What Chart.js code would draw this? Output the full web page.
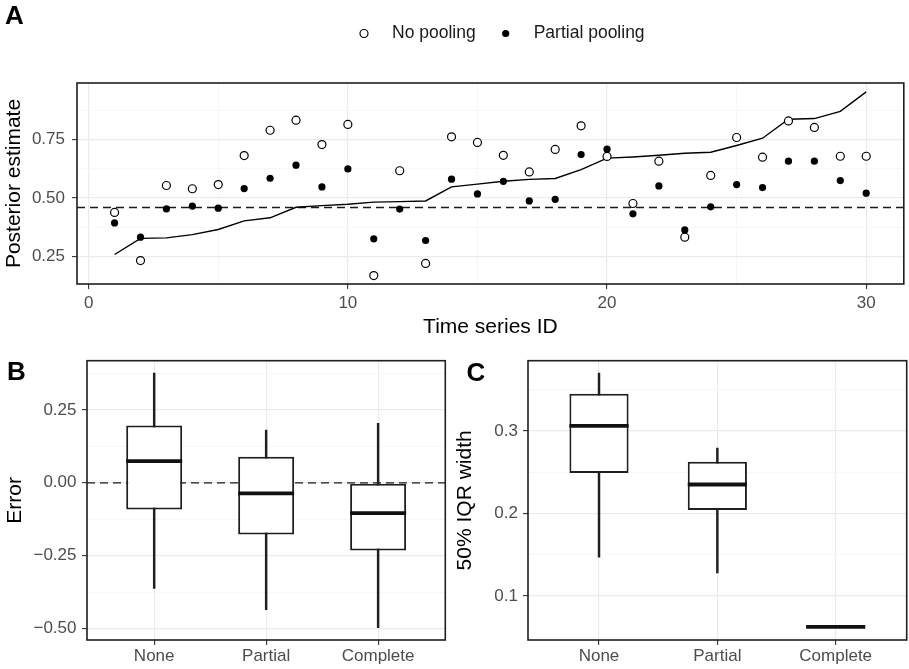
<!DOCTYPE html>
<html>
<head>
<meta charset="utf-8">
<title>Pooling comparison</title>
<script src="https://cdn.jsdelivr.net/npm/chart.js@4.4.1/dist/chart.umd.min.js"></script>
<style>
  html, body { margin: 0; padding: 0; background: #fff; }
  #wrap { position: relative; width: 909px; height: 669px; overflow: hidden; }
  canvas { position: absolute; }
</style>
</head>
<body>
<div id="wrap">
  <canvas id="chartA" width="909" height="340" style="left:0;top:0"></canvas>
  <canvas id="chartB" width="450" height="329" style="left:0;top:340px"></canvas>
  <canvas id="chartC" width="459" height="329" style="left:450px;top:340px"></canvas>
</div>
<script>
// ---- panel A: estimate per time series ----
var seriesIds = [1, 2, 3, 4, 5, 6, 7, 8, 9, 10, 11, 12, 13, 14, 15,
                 16, 17, 18, 19, 20, 21, 22, 23, 24, 25, 26, 27, 28, 29, 30];
var noPooling = [0.438, 0.232, 0.553, 0.539, 0.557, 0.681, 0.789, 0.832, 0.728, 0.814,
                 0.168, 0.616, 0.220, 0.761, 0.737, 0.682, 0.611, 0.707, 0.808, 0.677,
                 0.476, 0.657, 0.332, 0.596, 0.758, 0.674, 0.829, 0.801, 0.678, 0.678];
var partialPooling = [0.393, 0.332, 0.453, 0.465, 0.456, 0.540, 0.584, 0.640, 0.547, 0.624,
                      0.325, 0.452, 0.318, 0.580, 0.517, 0.571, 0.487, 0.494, 0.685, 0.708,
                      0.432, 0.551, 0.363, 0.462, 0.557, 0.544, 0.657, 0.657, 0.574, 0.520];
var trueValue = [0.258, 0.327, 0.329, 0.343, 0.365, 0.402, 0.415, 0.460, 0.467, 0.473,
                 0.482, 0.484, 0.487, 0.547, 0.559, 0.571, 0.579, 0.583, 0.621, 0.670,
                 0.675, 0.682, 0.691, 0.695, 0.724, 0.755, 0.836, 0.839, 0.870, 0.953];
var pooledMean = 0.459;
var aXRange = [-0.45, 31.45];
var aYRange = [0.132, 0.991];
var aXTicks = [0, 10, 20, 30];
var aXMinor = [5, 15, 25];
var aYTicks = [0.25, 0.5, 0.75];
var aYMinor = [0.375, 0.625, 0.875];

// ---- panels B and C: box plot summaries ----
var methods = ['None', 'Partial', 'Complete'];
var methodPos = [1, 2, 3];
var boxXRange = [0.4, 3.6];

var errLow = [-0.362, -0.435, -0.497];
var errQ1 = [-0.0915, -0.177, -0.232];
var errMedian = [0.0745, -0.0366, -0.104];
var errQ3 = [0.196, 0.0893, -0.003];
var errHigh = [0.376, 0.181, 0.204];
var errRange = [-0.539, 0.4185];
var errTicks = [-0.5, -0.25, 0, 0.25];
var errMinor = [-0.375, -0.125, 0.125, 0.375];

var iqrLow = [0.147, 0.128, 0.0625];
var iqrQ1 = [0.249, 0.204, 0.0625];
var iqrMedian = [0.306, 0.235, 0.0625];
var iqrQ3 = [0.345, 0.2625, 0.0625];
var iqrHigh = [0.370, 0.279, 0.0625];
var iqrRange = [0.0466, 0.385];
var iqrTicks = [0.1, 0.2, 0.3];
var iqrMinor = [0.05, 0.15, 0.25, 0.35];

var FONT = '"Liberation Sans", Arial, Helvetica, sans-serif';
Chart.defaults.font.family = FONT;
Chart.defaults.color = '#4d4d4d';

function pts(xs, ys) {
    return xs.map(function (x, i) { return {x: x, y: ys[i]}; });
}

function isIn(list, v) {
    return list.some(function (m) { return Math.abs(m - v) < 1e-9; });
}

// axis with ggplot-like major/minor grid
function makeAxis(range, major, minor, fmt, fit, tickPad, title, titlePad) {
    var all = major.concat(minor).sort(function (a, b) { return a - b; });
    var horizontal = fit.height !== undefined;
    return {
        type: 'linear',
        min: range[0],
        max: range[1],
        offset: false,
        afterBuildTicks: function (scale) {
            scale.ticks = all.map(function (v) { return {value: v}; });
        },
        afterFit: function (scale) {
            if (horizontal) scale.height = fit.height;
            else scale.width = fit.width;
        },
        ticks: {
            autoSkip: false,
            maxRotation: 0,
            minRotation: 0,
            padding: tickPad,
            color: '#4d4d4d',
            font: {size: 17},
            callback: function (v) { return isIn(major, v) ? fmt(v) : ''; }
        },
        grid: {
            offset: false,
            color: function (c) { return c.tick && isIn(major, c.tick.value) ? '#ebebeb' : '#f3f3f3'; },
            lineWidth: function (c) { return c.tick && isIn(major, c.tick.value) ? 1.2 : 0.7; },
            tickColor: function (c) { return c.tick && isIn(major, c.tick.value) ? '#333333' : 'rgba(0,0,0,0)'; },
            tickLength: 5,
            tickWidth: 1.1
        },
        border: {display: false},
        title: {
            display: true,
            text: title,
            color: '#000',
            font: {size: 21},
            padding: titlePad
        }
    };
}

// frame, panel tag and legend drawn on the canvas
function makeDeco(settings) {
    return {
        id: 'deco',
        afterDatasetsDraw: function (chart) {
            var ctx = chart.ctx, a = chart.chartArea;
            ctx.save();
            ctx.strokeStyle = '#1f1f1f';
            ctx.lineWidth = 1.6;
            ctx.strokeRect(a.left, a.top, a.right - a.left, a.bottom - a.top);
            ctx.restore();
        },
        afterDraw: function (chart) {
            var ctx = chart.ctx;
            ctx.save();
            ctx.font = 'bold 26px ' + FONT;
            ctx.fillStyle = '#000';
            ctx.textAlign = 'left';
            ctx.textBaseline = 'alphabetic';
            ctx.fillText(settings.tag, settings.tagX, settings.tagY);
            if (settings.legend) {
                var lg = settings.legend;
                ctx.font = '17.5px ' + FONT;
                ctx.textBaseline = 'middle';
                lg.items.forEach(function (it) {
                    var ds = chart.data.datasets[it.ds];
                    ctx.beginPath();
                    ctx.arc(it.x, lg.y, ds.pointRadius, 0, Math.PI * 2);
                    ctx.fillStyle = ds.pointBackgroundColor;
                    ctx.fill();
                    if (ds.pointBorderWidth) {
                        ctx.lineWidth = ds.pointBorderWidth;
                        ctx.strokeStyle = ds.pointBorderColor;
                        ctx.stroke();
                    }
                    ctx.fillStyle = '#1a1a1a';
                    ctx.fillText(ds.label, it.x + lg.gap, lg.y);
                });
            }
            ctx.restore();
        }
    };
}

var fixed2 = function (v) { return v.toFixed(2); };
var signed2 = function (v) { return (v < 0 ? '\u2212' : '') + Math.abs(v).toFixed(2); };
var fixed1 = function (v) { return v.toFixed(1); };

// ---- chart A ----
new Chart(document.getElementById('chartA'), {
    type: 'scatter',
    data: {
        datasets: [
            {
                label: 'True value',
                type: 'line',
                data: pts(seriesIds, trueValue),
                borderColor: '#000',
                borderWidth: 1.4,
                pointRadius: 0,
                tension: 0,
                order: 3
            },
            {
                label: 'No pooling',
                data: pts(seriesIds, noPooling),
                pointStyle: 'circle',
                pointRadius: 4,
                pointBorderWidth: 1.2,
                pointBorderColor: '#000',
                pointBackgroundColor: '#fff',
                order: 2
            },
            {
                label: 'Partial pooling',
                data: pts(seriesIds, partialPooling),
                pointStyle: 'circle',
                pointRadius: 3.6,
                pointBorderWidth: 0,
                pointBorderColor: '#000',
                pointBackgroundColor: '#000',
                order: 1
            },
            {
                label: 'Pooled mean',
                type: 'line',
                data: pts(aXRange, [pooledMean, pooledMean]),
                borderColor: '#1a1a1a',
                borderWidth: 1.3,
                borderDash: [8, 5],
                pointRadius: 0,
                order: 4
            }
        ]
    },
    options: {
        responsive: false,
        animation: false,
        events: [],
        layout: {padding: {left: 0, right: 2.3, top: 83, bottom: 0}},
        plugins: {legend: {display: false}, tooltip: {enabled: false}},
        scales: {
            x: makeAxis(aXRange, aXTicks, aXMinor, String, {height: 56}, 4,
                        'Time series ID', {top: 0, bottom: 0}),
            y: makeAxis(aYRange, aYTicks, aYMinor, fixed2, {width: 77}, 7,
                        'Posterior estimate', {top: 2, bottom: 0})
        }
    },
    plugins: [makeDeco({
        tag: 'A', tagX: 5, tagY: 24,
        legend: {y: 33.5, gap: 28, items: [{ds: 1, x: 364}, {ds: 2, x: 505.7}]}
    })]
});

// ---- box plot charts ----
function boxChart(id, stats, yRange, yTicks, yMinor, fmt, yWidth, yTickPad, yTitle, padRight, refLine, deco) {
    var datasets = [];
    if (refLine !== null) {
        datasets.push({
            type: 'line',
            data: pts(boxXRange, [refLine, refLine]),
            borderColor: '#1a1a1a',
            borderWidth: 1.3,
            borderDash: [8, 5],
            pointRadius: 0,
            order: 4
        });
    }
    // whiskers
    datasets.push({
        type: 'bar',
        data: methodPos.map(function (x, i) { return {x: x, y: [stats.low[i], stats.high[i]]}; }),
        backgroundColor: '#1f1f1f',
        borderWidth: 0,
        barThickness: 1.8,
        grouped: false,
        order: 3
    });
    // boxes
    datasets.push({
        type: 'bar',
        data: methodPos.map(function (x, i) { return {x: x, y: [stats.q1[i], stats.q3[i]]}; }),
        backgroundColor: '#fff',
        borderColor: '#1f1f1f',
        borderWidth: 2,
        borderSkipped: false,
        barPercentage: 0.5,
        categoryPercentage: 1,
        grouped: false,
        order: 2
    });
    // medians
    datasets.push({
        type: 'scatter',
        data: pts(methodPos, stats.median),
        pointStyle: 'line',
        pointRadius: function (c) {
            var s = c.chart.scales.x;
            return Math.abs(s.getPixelForValue(1.25) - s.getPixelForValue(1));
        },
        pointBorderWidth: 3.8,
        pointBorderColor: '#111',
        pointBackgroundColor: '#111',
        order: 1
    });

    var xAxis = makeAxis(boxXRange, methodPos, [], function (v) { return methods[v - 1]; },
                         {height: 29}, 1, '', {top: 0, bottom: 0});
    xAxis.title.display = false;

    return new Chart(document.getElementById(id), {
        type: 'bar',
        data: {datasets: datasets},
        options: {
            responsive: false,
            animation: false,
            events: [],
            layout: {padding: {left: 0, right: padRight, top: 20.7, bottom: 0}},
            plugins: {legend: {display: false}, tooltip: {enabled: false}},
            scales: {
                x: xAxis,
                y: makeAxis(yRange, yTicks, yMinor, fmt, {width: yWidth}, yTickPad,
                            yTitle, {top: 3, bottom: 0})
            }
        },
        plugins: [makeDeco(deco)]
    });
}

boxChart('chartB',
         {low: errLow, q1: errQ1, median: errMedian, q3: errQ3, high: errHigh},
         errRange, errTicks, errMinor, signed2, 87, 5.5, 'Error', 4.7, 0,
         {tag: 'B', tagX: 7, tagY: 39.5});

boxChart('chartC',
         {low: iqrLow, q1: iqrQ1, median: iqrMedian, q3: iqrQ3, high: iqrHigh},
         iqrRange, iqrTicks, iqrMinor, fixed1, 78, 5, '50% IQR width', 2.3, null,
         {tag: 'C', tagX: 16.5, tagY: 41});
</script>
</body>
</html>
